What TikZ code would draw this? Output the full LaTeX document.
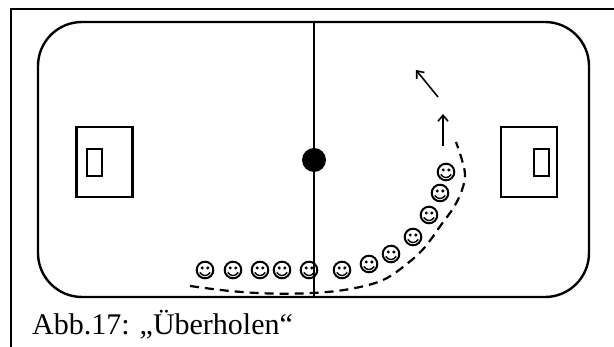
\documentclass[tikz,border=0pt]{standalone}
\usepackage{fontspec}
\setmainfont{Liberation Serif}
\usetikzlibrary{arrows.meta}
\tikzset{
 ln/.style={draw=black,line width=2.4pt},
 smiley/.pic={
  \draw[black,line width=2pt,fill=white] (0,0) circle (8.3);
  \fill (-2.8,-2) circle (1.7);
  \fill (2.8,-2) circle (1.7);
  \draw[black,line width=1.4pt] (-5.2,2.4) .. controls (-3,6.6) and (3,6.6) .. (5.2,2.4);
 },
 arr/.style={black,line width=1.6pt,-{Straight Barb[length=6pt,width=10pt,line width=1.6pt]}}
}
\begin{document}
\begin{tikzpicture}[x=1pt,y=-1pt]
\useasboundingbox (0,0) rectangle (614,347);
\draw[black,line width=2.4pt] (11,347) -- (11,9) -- (614,9);
\draw[ln] (82,22) -- (545,22) arc[start angle=90,end angle=0,x radius=44,y radius=-44] -- (589,253) arc[start angle=0,end angle=-90,x radius=44,y radius=-44] -- (82,297) arc[start angle=-90,end angle=-180,x radius=44,y radius=-44] -- (38,66) arc[start angle=180,end angle=90,x radius=44,y radius=-44] -- cycle;
\draw[ln] (76.5,127) rectangle (132.5,197);
\draw[ln,line width=1.9pt] (87,149) rectangle (102,176);
\draw[ln] (501,127) rectangle (557,197);
\draw[ln,line width=1.9pt] (534,149) rectangle (549,176);
\foreach \p in {(205,270),(233,270),(260,270),(282,270),(342,270),(369,264),(391,254),(413,237),(429,215),(440,193),(446,172)}
  \pic at \p {smiley};
\draw[ln,line width=2.8pt] (314,22) -- (314,297);
\pic at (309,270) {smiley};
\draw[black,line width=2pt] (314,262) -- (314,278);
\fill[black] (314,160) circle (12);
\draw[black,line width=2.2pt,dash pattern=on 9pt off 6pt]
 plot[smooth,tension=0.6] coordinates {(190,286) (230,291) (270,293.5) (313,293) (350,289) (383,280) (408,263) (425,247) (441,225) (454,207) (462,190) (465,175) (462,160) (456,142)};
\coordinate (a1) at (443,146); \coordinate (a2) at (443,114);
\coordinate (b1) at (438,97); \coordinate (b2) at (416,70);
\draw[arr] (a1) -- (a2);
\draw[arr] (b1) -- (b2);
\node[anchor=base west,inner sep=0pt,font=\fontsize{30}{32}\selectfont] (cap) at (32,335) {Abb.17: „Überholen“};
\end{tikzpicture}
\end{document}
